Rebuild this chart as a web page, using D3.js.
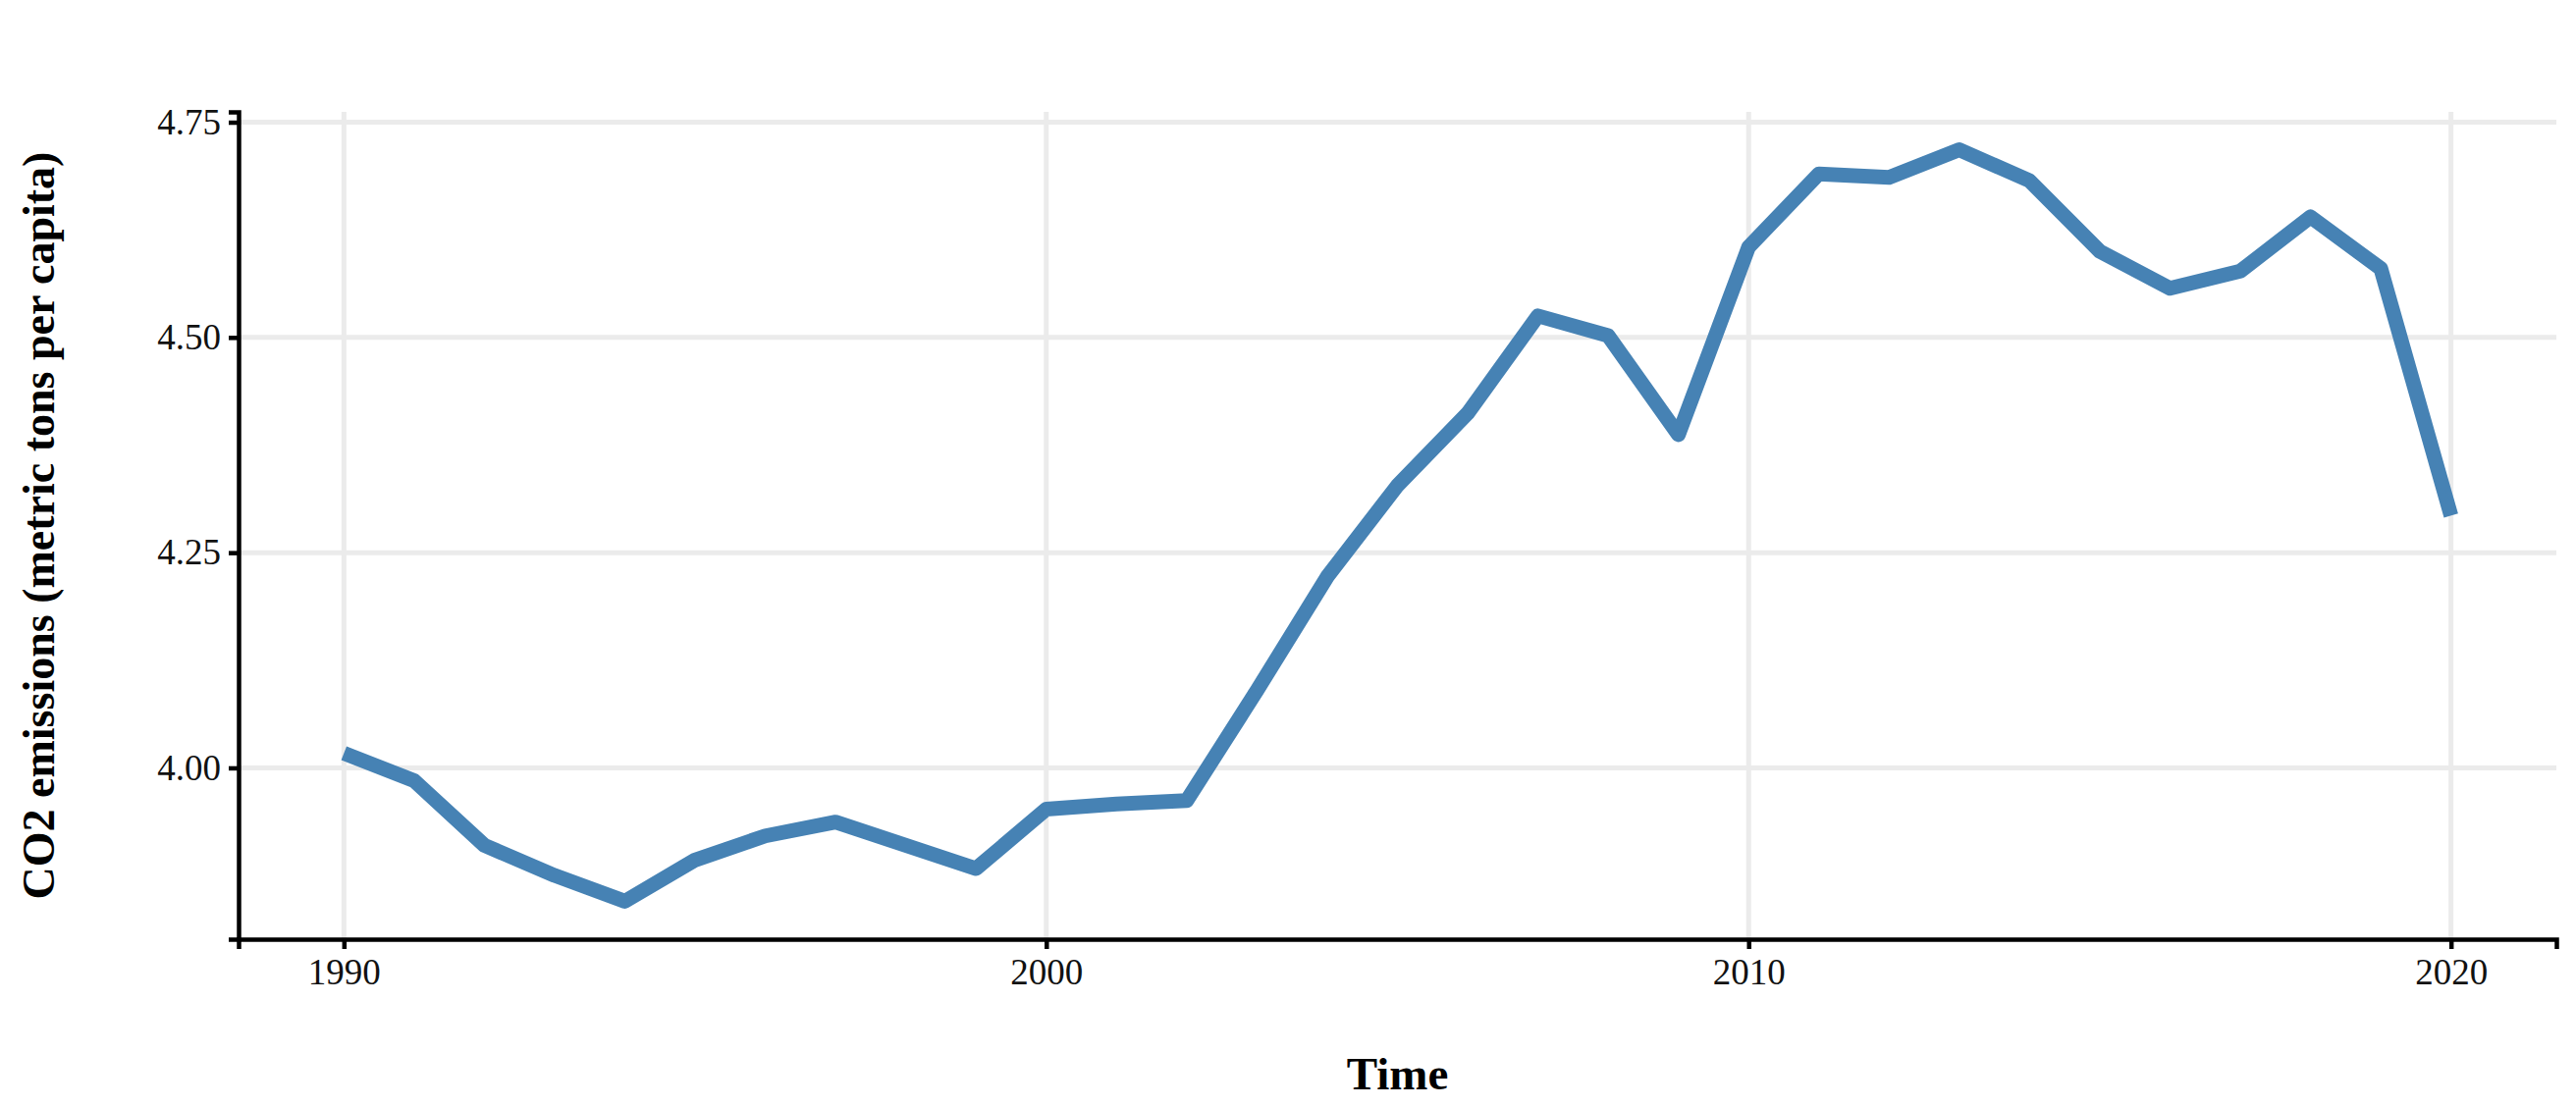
<!DOCTYPE html>
<html><head><meta charset="utf-8">
<script src="https://cdn.jsdelivr.net/npm/d3@7"></script>
<style>body{margin:0;background:#fff}</style></head>
<body><svg id="c" width="2624" height="1128"></svg>
<script>
const years = d3.range(1990, 2021);
const co2 = [4.017,3.985,3.91,3.875,3.845,3.893,3.921,3.937,3.91,3.883,3.952,3.958,3.962,4.09,4.222,4.328,4.412,4.525,4.502,4.387,4.605,4.69,4.686,4.718,4.682,4.60,4.557,4.577,4.64,4.58,4.293];
const xTicks = [1990, 2000, 2010, 2020];
const yTicks = [4.00, 4.25, 4.50, 4.75];

const svg = d3.select("#c");
const m = {left: 243, right: 20, top: 114, bottom: 171};
const W = 2624, H = 1128;
const x = d3.scaleLinear().domain([1988.5, 2021.5]).range([m.left, W - m.right]);
const y = d3.scaleLinear().domain([3.801, 4.762]).range([H - m.bottom, m.top]);
const font = "Liberation Serif, Times New Roman, serif";

// grid
svg.append("g").selectAll("line").data(xTicks).join("line")
  .attr("x1", d => x(d)).attr("x2", d => x(d)).attr("y1", m.top).attr("y2", H - m.bottom)
  .attr("stroke", "#ebebeb").attr("stroke-width", 5);
svg.append("g").selectAll("line").data(yTicks).join("line")
  .attr("y1", d => y(d)).attr("y2", d => y(d)).attr("x1", m.left).attr("x2", W - m.right)
  .attr("stroke", "#ebebeb").attr("stroke-width", 5);

// line
svg.append("path").datum(years.map((yr, i) => [yr, co2[i]]))
  .attr("d", d3.line().x(d => x(d[0])).y(d => y(d[1])))
  .attr("fill", "none").attr("stroke", "#4682b4").attr("stroke-width", 15)
  .attr("stroke-linejoin", "round");

// axes
const gx = svg.append("g").attr("transform", `translate(0,${H - m.bottom})`)
  .call(d3.axisBottom(x).tickValues(xTicks).tickFormat(d3.format("d")).tickSizeOuter(0).tickSize(10).tickPadding(10));
const gy = svg.append("g").attr("transform", `translate(${m.left},0)`)
  .call(d3.axisLeft(y).tickValues(yTicks).tickFormat(d3.format(".2f")).tickSizeOuter(0).tickSize(10).tickPadding(8));
[gx, gy].forEach(g => {
  g.select(".domain").attr("stroke", "#000").attr("stroke-width", 4.5);
  g.selectAll(".tick line").attr("stroke", "#000").attr("stroke-width", 4.5);
  g.selectAll("text").attr("font-family", font).attr("font-size", 37).attr("fill", "#111");
});

svg.append("text").attr("x", (m.left + W - m.right) / 2).attr("y", 1110)
  .attr("text-anchor", "middle").attr("font-family", font).attr("font-weight", "bold")
  .attr("font-size", 47).text("Time");
svg.append("text").attr("transform", `translate(55,${(m.top + H - m.bottom) / 2}) rotate(-90)`)
  .attr("text-anchor", "middle").attr("font-family", font).attr("font-weight", "bold")
  .attr("font-size", 46).text("CO2 emissions (metric tons per capita)");
</script></body></html>
